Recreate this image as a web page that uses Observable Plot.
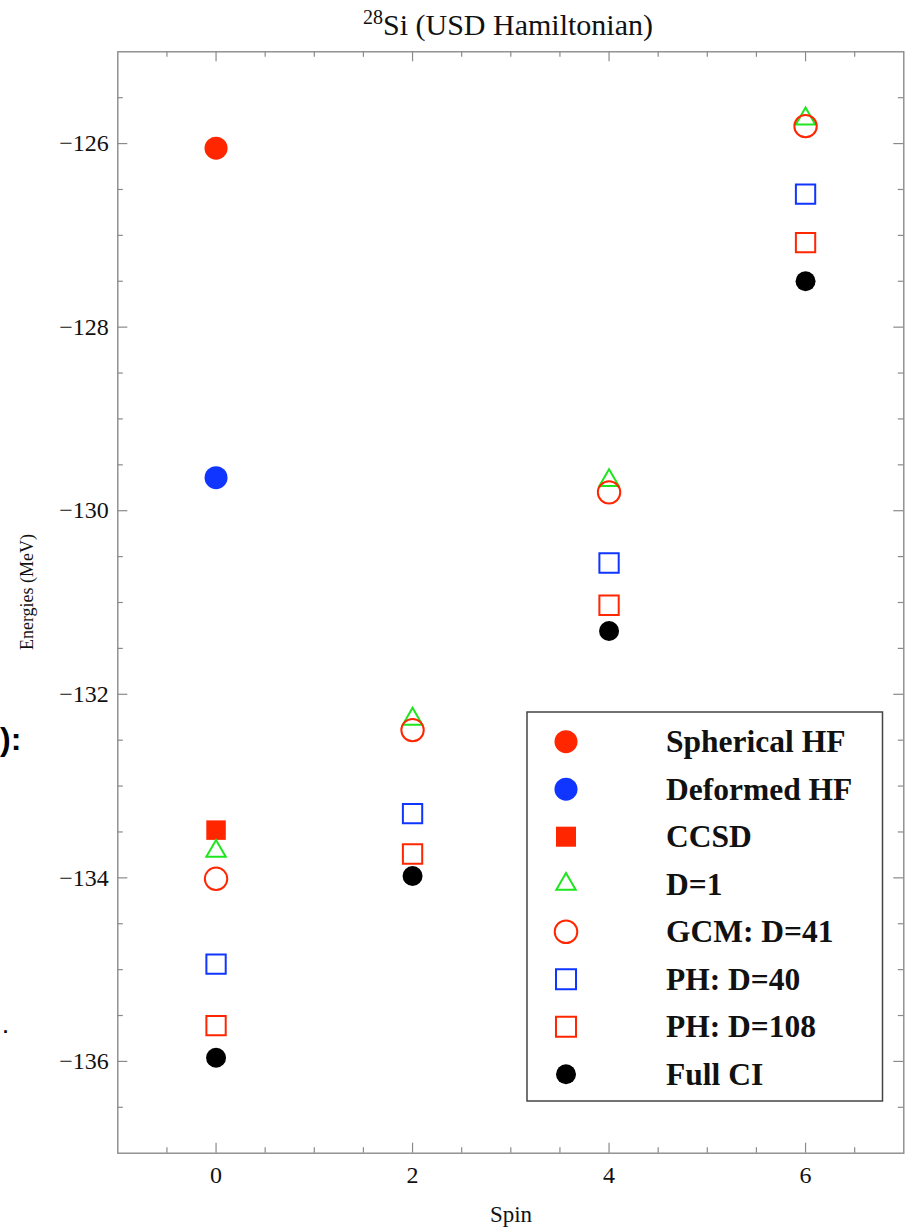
<!DOCTYPE html>
<html><head><meta charset="utf-8">
<script src="https://cdn.jsdelivr.net/npm/d3@7"></script>
<script src="https://cdn.jsdelivr.net/npm/@observablehq/plot@0.6"></script>
<style>
html,body{margin:0;padding:0;background:#fff;}
#wrap{position:relative;width:913px;height:1231px;overflow:hidden;}
#overlay{position:absolute;left:0;top:0;pointer-events:none;}
</style></head><body><div id="wrap"></div>
<script>
// ---- data ----
const spins = [0, 2, 4, 6];
const sphericalHF = [-126.05];
const deformedHF = [-129.64];
const ccsd = [-133.48];
const d1 = [-133.71, -132.27, -129.67, -125.73];
const gcm41 = [-134.01, -132.39, -129.80, -125.81];
const ph40 = [-134.94, -133.30, -130.57, -126.55];
const ph108 = [-135.61, -133.74, -131.03, -127.08];
const fullCI = [-135.96, -133.98, -131.31, -127.50];
const seriesNames = ["Spherical HF", "Deformed HF", "CCSD", "D=1", "GCM: D=41", "PH: D=40", "PH: D=108", "Full CI"];
const seriesValues = [sphericalHF, deformedHF, ccsd, d1, gcm41, ph40, ph108, fullCI];
const xMajor = [0, 2, 4, 6];
const xMinor = [-0.5, 0.5, 1, 1.5, 2.5, 3, 3.5, 4.5, 5, 5.5, 6.5];
const yMajor = [-126, -128, -130, -132, -134, -136];
const yMinor = [-125.5, -126.5, -127, -127.5, -128.5, -129, -129.5, -130.5, -131, -131.5, -132.5, -133, -133.5, -134.5, -135, -135.5, -136.5];
const titleMain = "Si (USD Hamiltonian)";
const titleSup = "28";
const xLabel = "Spin";
const yLabel = "Energies (MeV)";

// ---- styles ----
const RED = "#ff2600", BLUE = "#1035ff", GREEN = "#1ee61e", BLACK = "#000";
const sty = [
  {symbol: "circle",   r: 11.5, fill: RED,    stroke: "none"},
  {symbol: "circle",   r: 11.5, fill: BLUE,   stroke: "none"},
  {symbol: "square",   r: 11.0, fill: RED,    stroke: "none"},
  {symbol: "triangle", r: 7.2,  fill: "none", stroke: GREEN},
  {symbol: "circle",   r: 11.2, fill: "none", stroke: RED},
  {symbol: "square",   r: 10.9, fill: "none", stroke: BLUE},
  {symbol: "square",   r: 10.9, fill: "none", stroke: RED},
  {symbol: "circle",   r: 10.0, fill: BLACK,  stroke: "none"}
];

const W = 913, H = 1231;
const mL = 117.3, mR = 9.7, mT = 51.3, mB = 78.3;
const innerW = W - mL - mR, innerH = H - mT - mB;
const GRAY = "#8a8a8a";
const FONT = "'Liberation Serif', 'Times New Roman', serif";

const rows = [];
seriesNames.forEach((name, i) => seriesValues[i].forEach((e, j) => rows.push({name, spin: spins[j], e})));

const dotMarks = seriesNames.map((name, i) => Plot.dot(rows.filter(d => d.name === name), {
  x: "spin", y: "e", symbol: sty[i].symbol, r: sty[i].r,
  fill: sty[i].fill, stroke: sty[i].stroke, strokeWidth: 2
}));

const chart = Plot.plot({
  width: W, height: H,
  marginLeft: mL, marginRight: mR, marginTop: mT, marginBottom: mB,
  style: {fontFamily: FONT, fontSize: "24px", color: "#111", background: "transparent"},
  x: {domain: [-1, 7]},
  y: {domain: [-137, -125]},
  marks: [
    // inward ticks on all four sides
    Plot.ruleX(xMajor, {x: d => d, insetTop: innerH - 10, stroke: GRAY, strokeWidth: 1.2}),
    Plot.ruleX(xMajor, {x: d => d, insetBottom: innerH - 10, stroke: GRAY, strokeWidth: 1.2}),
    Plot.ruleX(xMinor, {x: d => d, insetTop: innerH - 5.5, stroke: GRAY, strokeWidth: 1.2}),
    Plot.ruleX(xMinor, {x: d => d, insetBottom: innerH - 5.5, stroke: GRAY, strokeWidth: 1.2}),
    Plot.ruleY(yMajor, {y: d => d, insetRight: innerW - 10, stroke: GRAY, strokeWidth: 1.2}),
    Plot.ruleY(yMajor, {y: d => d, insetLeft: innerW - 10, stroke: GRAY, strokeWidth: 1.2}),
    Plot.ruleY(yMinor, {y: d => d, insetRight: innerW - 5.5, stroke: GRAY, strokeWidth: 1.2}),
    Plot.ruleY(yMinor, {y: d => d, insetLeft: innerW - 5.5, stroke: GRAY, strokeWidth: 1.2}),
    Plot.axisX({ticks: xMajor, tickSize: 0, tickPadding: 13, label: null, fontSize: 24, fontFamily: FONT}),
    Plot.axisY({ticks: yMajor, tickSize: 0, tickPadding: 9, label: null, fontSize: 24, fontFamily: FONT,
      tickFormat: d => "\u2212" + Math.abs(d)}),
    Plot.frame({stroke: GRAY, strokeWidth: 1.4}),
    ...dotMarks
  ]
});
const wrap = document.getElementById("wrap");
wrap.appendChild(chart);

// ---- overlay: title, axis labels, legend, slide fragments ----
const svg = d3.select(wrap).append("svg").attr("id", "overlay")
  .attr("width", W).attr("height", H).attr("viewBox", `0 0 ${W} ${H}`);

const t = svg.append("text").attr("x", 508).attr("y", 35).attr("text-anchor", "middle")
  .attr("font-family", FONT).attr("fill", "#111");
t.append("tspan").attr("font-size", 20).attr("dy", -11).text(titleSup);
t.append("tspan").attr("font-size", 30).attr("dy", 11).text(titleMain);

svg.append("text").attr("x", 511).attr("y", 1222).attr("text-anchor", "middle")
  .attr("font-family", FONT).attr("font-size", 23).attr("fill", "#111").text(xLabel);

svg.append("text").attr("transform", "translate(33,592) rotate(-90)").attr("text-anchor", "middle")
  .attr("font-family", FONT).attr("font-size", 18).attr("fill", "#111").text(yLabel);

// legend
const LX = 527, LY = 712, LW = 355.5, LH = 389;
const lg = svg.append("g").attr("transform", `translate(${LX},${LY})`);
lg.append("rect").attr("x", 0).attr("y", 0).attr("width", LW).attr("height", LH)
  .attr("fill", "#fff").attr("stroke", "#444").attr("stroke-width", 1.5);
const symMap = {circle: d3.symbolCircle, square: d3.symbolSquare, triangle: d3.symbolTriangle};
const legR = [11.5, 11.5, 11.3, 7.2, 11.3, 11.3, 11.3, 10.0];
seriesNames.forEach((name, i) => {
  const cy = 29.7 + i * 47.5;
  lg.append("path")
    .attr("transform", `translate(39,${cy})`)
    .attr("d", d3.symbol(symMap[sty[i].symbol], Math.PI * legR[i] * legR[i])())
    .attr("fill", sty[i].fill).attr("stroke", sty[i].stroke).attr("stroke-width", 2);
  lg.append("text").attr("x", 139).attr("y", cy + 10.5)
    .attr("font-family", FONT).attr("font-weight", "bold").attr("font-size", 31.5)
    .attr("fill", "#111").text(name);
});

// fragments of surrounding slide text at left edge
svg.append("text").attr("x", 0).attr("y", 750)
  .attr("font-family", "'Liberation Sans', Arial, sans-serif").attr("font-weight", "bold")
  .attr("font-size", 32).attr("fill", "#000").text("):");
svg.append("text").attr("x", 3).attr("y", 1033)
  .attr("font-family", "'Liberation Sans', Arial, sans-serif").attr("font-weight", "bold")
  .attr("font-size", 18).attr("fill", "#000").text(".");
</script></body></html>
